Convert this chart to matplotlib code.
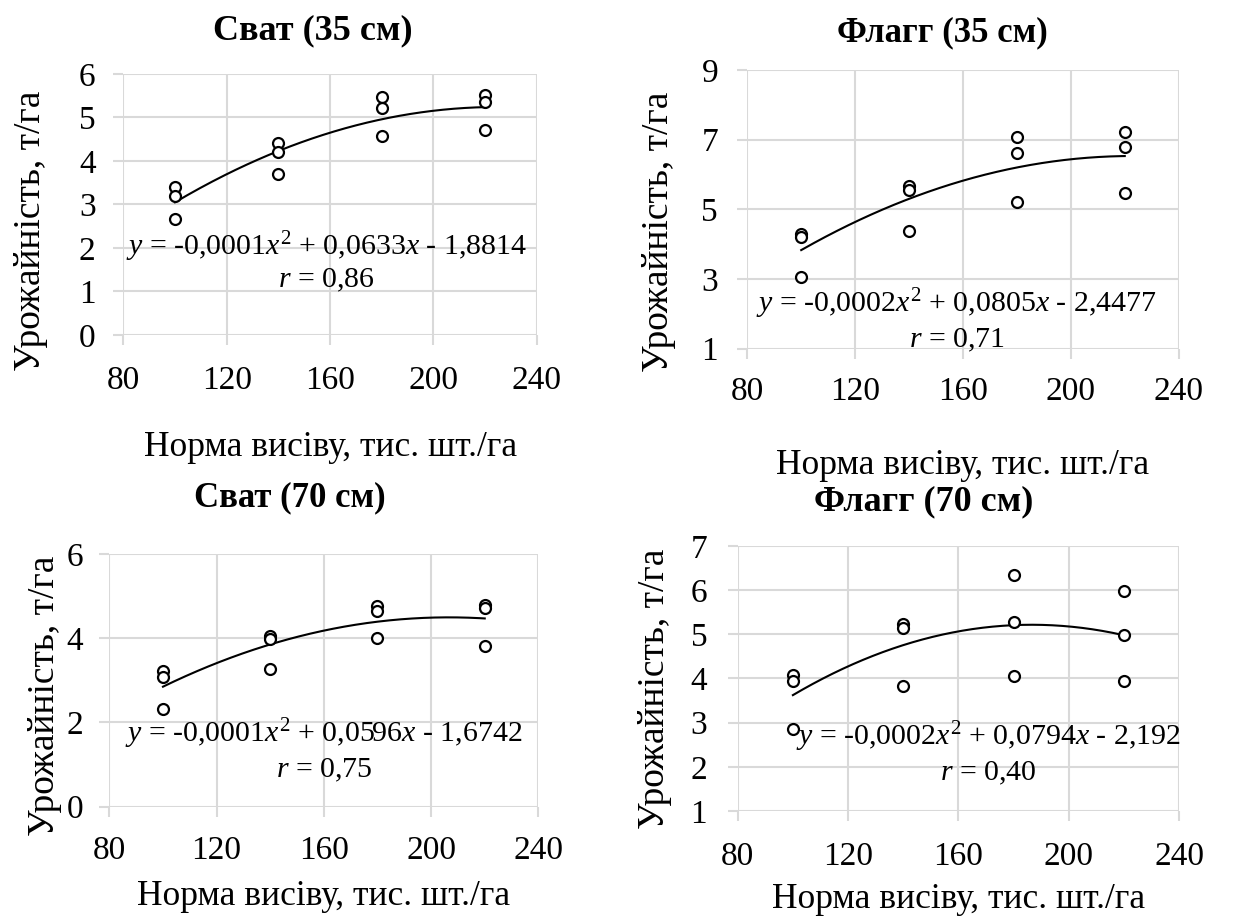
import matplotlib as mpl
import numpy as np
from matplotlib import pyplot as plt

mpl.rcParams['font.family'] = ['Liberation Serif', 'DejaVu Serif']
mpl.rcParams['mathtext.fontset'] = 'custom'
mpl.rcParams['mathtext.rm'] = 'Liberation Serif'
mpl.rcParams['mathtext.it'] = 'Liberation Serif:italic'

# seeding rate, thousand pcs/ha (3 replicates per rate)
rates = [100, 100, 100, 140, 140, 140, 180, 180, 180, 220, 220, 220]

svat_35 = [3.41, 3.20, 2.66, 4.42, 4.21, 3.69, 5.46, 5.21, 4.57, 5.52, 5.36, 4.71]
flagg_35 = [4.30, 4.22, 3.07, 5.66, 5.56, 4.39, 7.07, 6.63, 5.20, 7.23, 6.79, 5.47]
svat_70 = [3.21, 3.09, 2.33, 4.04, 3.98, 3.28, 4.77, 4.65, 4.01, 4.79, 4.71, 3.82]
flagg_70 = [4.08, 3.95, 2.86, 5.23, 5.14, 3.84, 6.34, 5.28, 4.06, 5.99, 4.98, 3.95]

titles = ['Сват (35 см)', 'Флагг (35 см)', 'Сват (70 см)', 'Флагг (70 см)']
equations = [
    r'$y$ = -0,0001$x^2$ + 0,0633$x$ - 1,8814',
    r'$y$ = -0,0002$x^2$ + 0,0805$x$ - 2,4477',
    r'$y$ = -0,0001$x^2$ + 0,0596$x$ - 1,6742',
    r'$y$ = -0,0002$x^2$ + 0,0794$x$ - 2,192',
]
r_values = ['0,86', '0,71', '0,75', '0,40']
x_ticks = [80, 120, 160, 200, 240]
y_ticks = [
    [0, 1, 2, 3, 4, 5, 6],
    [1, 3, 5, 7, 9],
    [0, 2, 4, 6],
    [1, 2, 3, 4, 5, 6, 7],
]

# layout: axes rectangles in figure fraction, title centres in pixels,
# equation label positions in data units, paddings in points
W, H = 1257, 922
rects = [
    [0.0981, 0.6367, 0.3290, 0.2831],
    [0.5945, 0.6218, 0.3432, 0.3023],
    [0.0870, 0.1251, 0.3413, 0.2741],
    [0.5869, 0.1204, 0.3511, 0.2874],
]
title_px = [(313, 31), (942, 33), (290, 498), (924, 502)]
title_size = [26, 25, 25, 26]
eq_pos = [(158.6, 2.02, 1.26), (157.7, 2.30, 1.25), (160, 1.74, 0.87), (171, 2.68, 1.85)]
ytick_pad = [13, 14, 12, 15]
xtick_pad = [15, 13, 14, 15]
ylabel_pad = [22, 18, 3, 13]
ylabel_y = [0.40, 0.42, 0.44, 0.46]
xlabel_pad = [25, 30, 10, 8]

grid_color = '#d9d9d9'

fig = plt.figure(figsize=(W / 100, H / 100), dpi=100)

for i, yields in enumerate([svat_35, flagg_35, svat_70, flagg_70]):
    ax = fig.add_axes(rects[i])
    x = np.array(rates, dtype=float)
    y = np.array(yields)

    ax.scatter(x, y, s=62, facecolors='white', edgecolors='black', linewidths=1.6, zorder=3)

    # second order polynomial trendline
    coef = np.polyfit(x, y, 2)
    xs = np.linspace(x.min(), x.max(), 200)
    ax.plot(xs, np.polyval(coef, xs), color='black', linewidth=1.5, zorder=2)

    ax.set_xlim(x_ticks[0], x_ticks[-1])
    ax.set_ylim(y_ticks[i][0], y_ticks[i][-1])
    ax.set_xticks(x_ticks)
    ax.set_yticks(y_ticks[i])
    ax.grid(True, color=grid_color, linewidth=1.5)
    ax.set_axisbelow(True)
    for s in ax.spines.values():
        s.set_visible(False)
    ax.tick_params(axis='both', length=7, width=1.5, color=grid_color, labelsize=24)
    ax.tick_params(axis='x', pad=xtick_pad[i])
    ax.tick_params(axis='y', pad=ytick_pad[i])

    ax.set_xlabel('Норма висіву, тис. шт./га', fontsize=25.5, labelpad=xlabel_pad[i])
    ax.set_ylabel('Урожайність, т/га', fontsize=27, labelpad=ylabel_pad[i])
    ax.yaxis.label.set_y(ylabel_y[i])

    tx, ty = title_px[i]
    fig.text(tx / W, 1 - ty / H, titles[i], fontsize=title_size[i], fontweight='bold',
             ha='center', va='center')

    ex, ey, ry = eq_pos[i]
    ax.text(ex, ey, equations[i], fontsize=21.5, ha='center', va='center', zorder=4)
    ax.text(ex, ry, r'$r$ = ' + r_values[i], fontsize=21.5, ha='center', va='center', zorder=4)

fig.savefig('out.png', dpi=100)
